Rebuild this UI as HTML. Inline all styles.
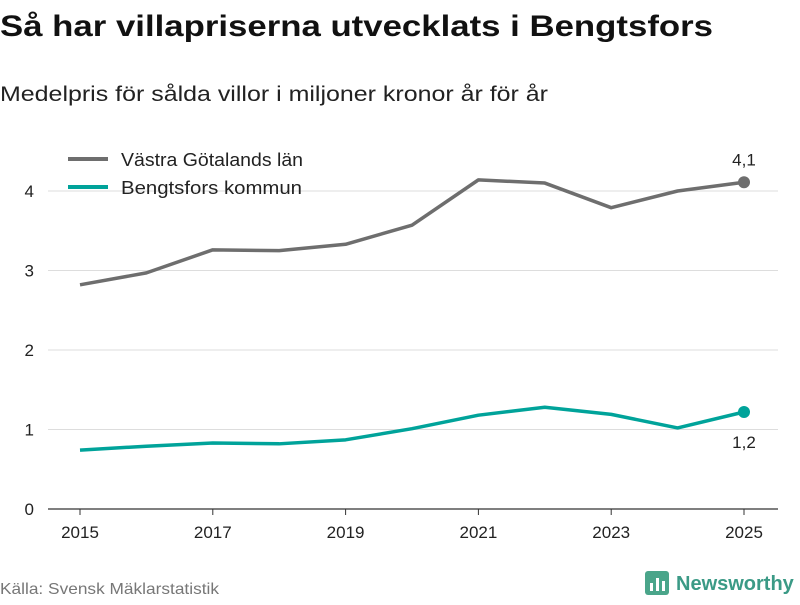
<!DOCTYPE html>
<html><head><meta charset="utf-8"><style>
body{margin:0;width:800px;height:600px;background:#fff;font-family:"Liberation Sans","DejaVu Sans",sans-serif;overflow:hidden}
</style></head><body>
<svg width="800" height="600" id="svg">
<text x="0" y="36" font-size="30" font-weight="bold" fill="#111" textLength="713" lengthAdjust="spacingAndGlyphs">Så har villapriserna utvecklats i Bengtsfors</text>
<text x="0" y="101" font-size="21" fill="#222" textLength="548" lengthAdjust="spacingAndGlyphs">Medelpris för sålda villor i miljoner kronor år för år</text>
<g id="grid"></g><g id="lines"></g>
<g>
<line x1="68" y1="159" x2="108" y2="159" stroke="#6e6e6e" stroke-width="4"/>
<text x="121" y="166" font-size="18" fill="#222" textLength="182" lengthAdjust="spacingAndGlyphs">Västra Götalands län</text>
<line x1="68" y1="187" x2="108" y2="187" stroke="#00a39a" stroke-width="4"/>
<text x="121" y="194" font-size="18" fill="#222" textLength="181" lengthAdjust="spacingAndGlyphs">Bengtsfors kommun</text>
</g>
<text x="0" y="594" font-size="16" fill="#777" textLength="219" lengthAdjust="spacingAndGlyphs">Källa: Svensk Mäklarstatistik</text>
<g>
<rect x="645" y="571" width="24" height="24" rx="3" fill="#4aa58a"/>
<rect x="650" y="583" width="3" height="8" fill="#fff"/><rect x="656" y="578" width="3" height="13" fill="#fff"/><rect x="662" y="581" width="3" height="10" fill="#fff"/>
<text x="676" y="590" font-size="20" font-weight="bold" fill="#3b9a86">Newsworthy</text>
</g>
</svg>
<script>
const years=[2015,2016,2017,2018,2019,2020,2021,2022,2023,2024,2025];
const vg=[2.82,2.97,3.26,3.25,3.33,3.57,4.14,4.10,3.79,4.0,4.11];
const bf=[0.74,0.79,0.83,0.82,0.87,1.01,1.18,1.28,1.19,1.02,1.22];
const yTicks=[0,1,2,3,4];
const xTicks=[2015,2017,2019,2021,2023,2025];
const lastLabels=["4,1","1,2"];
const NS="http://www.w3.org/2000/svg";
const X=v=>80+(v-2015)*66.4, Y=v=>509-v*79.5;
function mk(p,t,a){const e=document.createElementNS(NS,t);for(const k in a)e.setAttribute(k,a[k]);p.appendChild(e);return e;}
const g=document.getElementById('grid'),L=document.getElementById('lines');
yTicks.forEach(t=>{
 const l=mk(g,'line',{x1:48,x2:778,y1:Y(t),y2:Y(t),stroke:t==0?'#333':'#ddd','stroke-width':t==0?1.2:1});
 
 
 const tx=mk(g,'text',{x:34,y:Y(t)+6,'font-size':17,fill:'#222','text-anchor':'end'});tx.textContent=t;
 
 
});
xTicks.forEach(t=>{
 const l=mk(g,'line',{x1:X(t),x2:X(t),y1:509,y2:515,stroke:'#333'});
 
 
 const tx=mk(g,'text',{x:X(t),y:538,'font-size':17,fill:'#222','text-anchor':'middle'});tx.textContent=t;
 
 
});
[[vg,'#6e6e6e','vg',-23],[bf,'#00a39a','bengtsfors',30]].forEach(([d,c,n,dy],i)=>{
 const p=mk(L,'polyline',{points:d.map((v,j)=>X(years[j])+','+Y(v)).join(' '),fill:'none',stroke:c,'stroke-width':3.5,'stroke-linejoin':'round'});
 
 
 const last=d.length-1;
 const ci=mk(L,'circle',{cx:X(years[last]),cy:Y(d[last]),r:6,fill:c});
 
 
 const tx=mk(L,'text',{x:X(years[last]),y:Y(d[last])+dy+6,'font-size':17,fill:'#222','text-anchor':'middle'});tx.textContent=lastLabels[i];
 
 
});
</script>
</body></html>
